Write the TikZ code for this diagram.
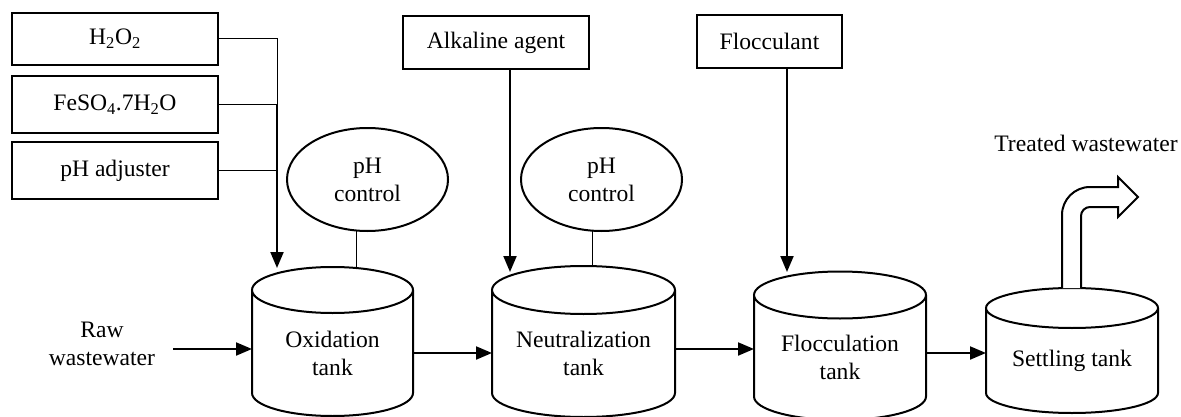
\documentclass[tikz,border=0pt]{standalone}
\usepackage{fontspec}
\setmainfont{Liberation Serif}
\usepackage{xcolor}
\usetikzlibrary{arrows.meta,calc,positioning,shapes.geometric}
\definecolor{ink}{HTML}{000000}
\definecolor{panel}{HTML}{FFFFFF}
\tikzset{
  font=\fontsize{23.6}{28}\selectfont,
  >={Triangle[length=16pt,width=13pt]},
  flow/.style={draw=ink, line width=2pt, ->},
  link/.style={draw=ink, line width=1pt},
  probe/.style={draw=ink, line width=1pt},
  dosebox/.style={draw=ink, fill=panel, line width=2pt, align=center,
    inner sep=0pt, outer sep=0pt},
  meter/.style={ellipse, draw=ink, line width=2pt, align=center,
    inner sep=0pt, outer sep=0pt, minimum width=161pt, minimum height=103pt},
  vessel/.style={draw=ink, line width=2pt},
  tank/.style={align=center, inner sep=0pt, outer sep=0pt},
  plain/.style={align=center, inner sep=0pt},
  pipe/.style={draw=ink, fill=panel, line width=2pt, line join=miter}
}
% cylinder outline round a tank node; #1 = lid radius in pt
\newcommand\tankshell[2][23]{%
  \draw[vessel] let \p1=($(#2.east)-(#2.west)$) in
    ([yshift=#1pt]#2.north west) -- (#2.south west)
    arc[start angle=180, end angle=360, x radius=0.5*\x1, y radius=#1pt]
    -- ([yshift=#1pt]#2.north east)
    ([yshift=#1pt]#2.north) ellipse[x radius=0.5*\x1, y radius=#1pt];
}

\begin{document}
\begin{tikzpicture}[x=1pt,y=1pt]
  \useasboundingbox (0,0) rectangle (1181,416);

  % -------------------------------------------------------------------
  % Chemical feeds.
  \node[dosebox, minimum width=206pt, minimum height=52pt] (h2o2)
    at (115,377) {H\textsubscript{2}O\textsubscript{2}};
  \node[dosebox, minimum width=206pt, minimum height=57pt] (feso4)
    at (115,311.5) {FeSO\textsubscript{4}.7H\textsubscript{2}O};
  \node[dosebox, minimum width=206pt, minimum height=57pt] (phadj)
    at (115,245.5) {pH adjuster};
  \node[dosebox, minimum width=186pt, minimum height=53pt] (alkali)
    at (496,373) {Alkaline agent};
  \node[dosebox, minimum width=145pt, minimum height=53pt] (floccul)
    at (769.5,374.5) {Flocculant};

  % pH controllers
  \node[meter] (ph1) at (367.5,236.5) {pH\\control};
  \node[meter] (ph2) at (601.5,236.5) {pH\\control};

  % -------------------------------------------------------------------
  % Tanks (node = body below the lid).
  \node[tank, minimum width=161pt, minimum height=80pt] (oxid)
    at (332.5,63) {Oxidation\\tank};
  \node[tank, minimum width=183pt, minimum height=79pt] (neut)
    at (583.5,62.5) {Neutralization\\tank};
  \node[tank, minimum width=172pt, minimum height=78pt] (flocc)
    at (840,58.5) {Flocculation\\tank};
  \node[tank, minimum width=172pt, minimum height=65pt] (settle)
    at (1072,55.5) {Settling tank};
  \tankshell{oxid}
  \tankshell[24]{neut}
  \tankshell[23.5]{flocc}
  \tankshell[20]{settle}

  \node[plain] (raw) at (102,72.5) {Raw\\wastewater};
  \node[plain] (treated) at (1086,273) {Treated wastewater};

  % dosing points on the lids
  \coordinate (oxidIn) at (277,148);
  \coordinate (neutIn) at (510,144);
  \coordinate (floccIn) at (787,144);
  \coordinate (oxidProbe) at (356,148);
  \coordinate (neutProbe) at (592,150);

  % -------------------------------------------------------------------
  % Feed lines.
  \draw[link] (h2o2.east) -- (h2o2.east -| oxidIn) -- (feso4.east -| oxidIn);
  \draw[link] (feso4.east) -- (feso4.east -| oxidIn);
  \draw[link] (phadj.east) -- (phadj.east -| oxidIn);
  \draw[flow] (feso4.east -| oxidIn) -- (oxidIn);
  \draw[flow] (alkali.south -| neutIn) -- (neutIn);
  \draw[flow] (floccul.south -| floccIn) -- (floccIn);

  \draw[probe] (ph1.south -| oxidProbe) -- (oxidProbe);
  \draw[probe] (ph2.south -| neutProbe) -- (neutProbe);

  % main stream
  \draw[flow] ([xshift=18pt,yshift=-5.5pt]raw.east)
    -- ([yshift=-5.5pt]raw.east -| oxid.west);
  \draw[flow] (oxid.east) -- (oxid.east -| neut.west);
  \draw[flow] ([yshift=4.5pt]neut.east) -- ([yshift=4.5pt]neut.east -| flocc.west);
  \draw[flow] ([yshift=4.5pt]flocc.east) -- ([yshift=4.5pt]flocc.east -| settle.west);

  % outlet pipe
  \draw[pipe] (1062,128) -- (1062,201) arc[start angle=180, end angle=90, radius=28]
    -- (1118,229) -- (1118,239) -- (1138,219) -- (1118,199) -- (1118,209)
    -- (1090,209) arc[start angle=90, end angle=180, radius=9] -- (1081,128);
\end{tikzpicture}
\end{document}
